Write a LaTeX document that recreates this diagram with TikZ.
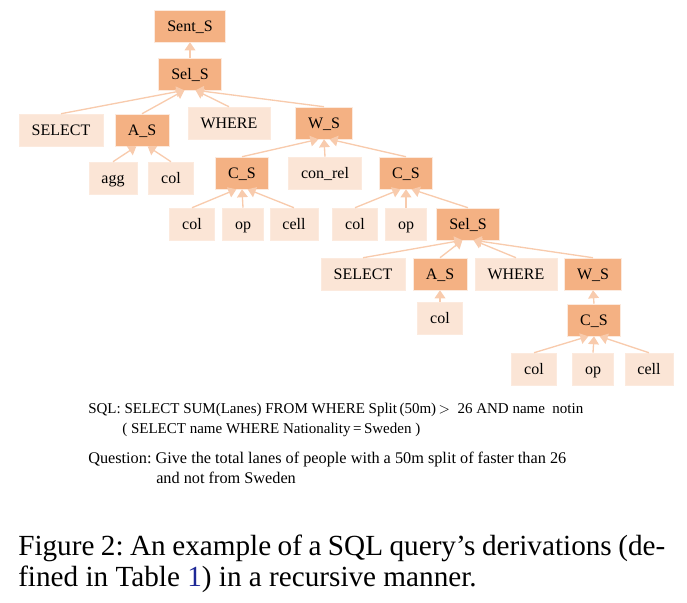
\documentclass[tikz,border=0pt]{standalone}
\usepackage{fontspec}
\setmainfont{Liberation Serif}
\usepackage{xcolor}
\usetikzlibrary{arrows.meta,positioning}
\definecolor{NTc}{HTML}{F4B183}
\definecolor{Tc}{HTML}{FBE5D6}
\definecolor{Edgc}{HTML}{F8CBAD}
\definecolor{Linkc}{RGB}{30,40,150}
\tikzset{
  box/.style={rectangle,draw=white!60!Edgc,line width=0.4pt,inner xsep=9.5pt,
              minimum height=24pt,text height=10.2pt,text depth=1.6pt,
              font=\fontsize{12}{14}\selectfont},
  nterm/.style={box,fill=NTc},
  term/.style={box,fill=Tc},
  der/.style={-{Triangle[width=8pt,length=6pt]},line width=1pt,Edgc},
  txt/.style={anchor=base west,inner sep=0pt,font=\fontsize{11.25}{13}\selectfont},
  qtxt/.style={txt,font=\fontsize{12.2}{14}\selectfont},
  capt/.style={anchor=base west,inner sep=0pt,font=\fontsize{21.9}{26}\selectfont},
}

\begin{document}
\frenchspacing
\begin{tikzpicture}[x=0.75pt,y=-0.75pt]
  \useasboundingbox (0,0) rectangle (687,603);
  % upper tree
  \node[nterm] (sent) at (190,26) {Sent\_S};
  \node[nterm] (sel) at (190,74) {Sel\_S};
  \node[term] (select1) at (61,130) {SELECT};
  \node[nterm] (as1) at (142,130) {A\_S};
  \node[term] (where1) at (229,123) {WHERE};
  \node[nterm] (ws1) at (324,123) {W\_S};
  \node[term] (agg) at (113,178) {agg};
  \node[term] (col1) at (171,178) {col};
  \node[nterm] (cs1) at (242,173) {C\_S};
  \node[term] (conrel) at (325,173) {con\_rel};
  \node[nterm] (cs2) at (406,173) {C\_S};
  \node[term] (col2) at (192,224) {col};
  \node[term] (op2) at (243,224) {op};
  \node[term] (cell2) at (294,224) {cell};
  \node[term] (col3) at (355,224) {col};
  \node[term] (op3) at (406,224) {op};
  \node[nterm] (sel2) at (468,224) {Sel\_S};
  % nested query
  \node[term] (select2) at (363,274) {SELECT};
  \node[nterm] (as2) at (440,274) {A\_S};
  \node[term] (where2) at (516,274) {WHERE};
  \node[nterm] (ws2) at (593,274) {W\_S};
  \node[term] (col4) at (440,318) {col};
  \node[nterm] (cs3) at (594,320) {C\_S};
  \node[term] (col5) at (534,369) {col};
  \node[term] (op5) at (593,369) {op};
  \node[term] (cell5) at (649,369) {cell};

  % heads meet just left / right of the parent's bottom middle
  \draw[der] (sel.north) -- (sent.south);
  \draw[der] (select1.north) -- (sel.251); \draw[der] (as1.north) -- (sel.251);
  \draw[der] (where1.north) -- (sel.289); \draw[der] (ws1.north) -- (sel.289);
  \draw[der] (agg.north) -- (as1.251); \draw[der] (col1.north) -- (as1.289);
  \draw[der] (cs1.north) -- (ws1.251); \draw[der] (conrel.north) -- (ws1.south);
  \draw[der] (cs2.north) -- (ws1.289);
  \draw[der] (col2.north) -- (cs1.251); \draw[der] (op2.north) -- (cs1.south);
  \draw[der] (cell2.north) -- (cs1.289);
  \draw[der] (col3.north) -- (cs2.251); \draw[der] (op3.north) -- (cs2.south);
  \draw[der] (sel2.north) -- (cs2.289);
  \draw[der] (select2.north) -- (sel2.251); \draw[der] (as2.north) -- (sel2.251);
  \draw[der] (where2.north) -- (sel2.289); \draw[der] (ws2.north) -- (sel2.289);
  \draw[der] (col4.north) -- (as2.south);
  \draw[der] (cs3.north) -- (ws2.south);
  \draw[der] (col5.north) -- (cs3.251); \draw[der] (op5.north) -- (cs3.south);
  \draw[der] (cell5.north) -- (cs3.289);

  % query and question
  \node[txt] (sql1) at (88,413) {SQL: SELECT SUM(Lanes) FROM WHERE Split\,(50m)\,$>$\ \ 26 AND name\ \ notin};
  \node[txt] (sql2) at (122,433) {( SELECT name WHERE Nationality\,=\,Sweden )};
  \node[qtxt] (q1) at (88,463) {Question: Give the total lanes of people with a 50m split of faster than 26};
  \node[qtxt] (q2) at (156,483) {and not from Sweden};

  % caption
  \node[capt] (cap1) at (18,555) {\makebox[485.25pt][s]{Figure 2: An example of a SQL query’s derivations (de-}};
  \node[capt] (cap2) at (18,586) {fined in Table \textcolor{Linkc}{1}) in a recursive manner.};
\end{tikzpicture}
\end{document}
